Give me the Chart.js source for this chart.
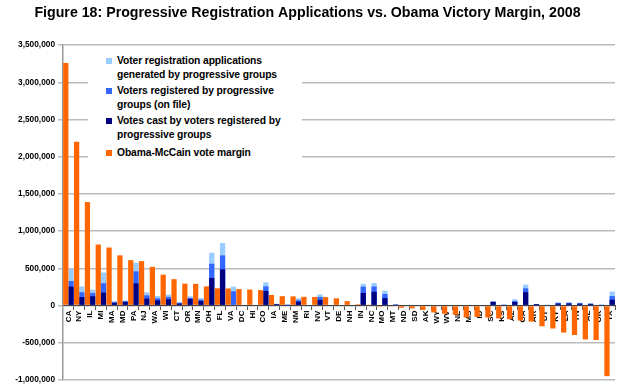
<!DOCTYPE html>
<html>
<head>
<meta charset="utf-8">
<script src="https://cdn.jsdelivr.net/npm/chart.js@4.4.1/dist/chart.umd.min.js"></script>
<style>
  html, body { margin: 0; padding: 0; background: #fff; }
  #wrap { position: relative; width: 640px; height: 388px; }
  #legend {
    position: absolute; left: 88px; top: 48px; width: 214px; height: 117px;
    background: #fff; color: #000;
    font: bold 10.3px "Liberation Sans", Arial, sans-serif;
  }
  .item { position: absolute; left: 29px; white-space: pre-line; line-height: 13.5px; letter-spacing: -0.1px; }
  .sw { position: absolute; left: -11px; top: 4px; width: 6px; height: 6px; }
</style>
</head>
<body>
<div id="wrap">
  <canvas id="chart" width="640" height="388"></canvas>
  <div id="legend"></div>
</div>
<script>
const states = ['CA','NY','IL','MI','MA','MD','PA','NJ','WA','WI','CT','OR','MN','OH','FL','VA','DC','HI','CO','IA',
  'ME','NM','RI','NV','VT','DE','NH','IN','NC','MO','MT','ND','SD','AK','WY','WV','NE','MS','ID','SC',
  'KS','AZ','GA','AR','UT','KY','LA','TN','AL','OK','TX'];

// Obama-McCain vote margin
const margin = [3260000, 2200000, 1390000, 820000, 780000, 675000, 610000, 597000, 520000, 415000,
  355000, 295000, 292000, 258000, 232000, 230000, 222000, 215000, 208000, 142000,
  126000, 124000, 118000, 116000, 114000, 98000, 60000, 18000, 7000, -5000,
  -12000, -30000, -38000, -58000, -92000, -110000, -125000, -160000, -152000, -160000,
  -172000, -182000, -202000, -215000, -278000, -308000, -362000, -395000, -455000, -462000,
  -948000];

// registration applications generated by progressive groups
const applications = [490000, 257000, 214000, 444000, 56000, 67000, 576000, 179000, 130000, 147000,
  49000, 125000, 100000, 710000, 840000, 254000, 0, 0, 312000, 25000,
  5000, 98000, 0, 150000, 0, 0, 0, 292000, 303000, 200000,
  15000, 0, 0, 0, 0, 0, 0, 0, 0, 55000,
  10000, 85000, 282000, 20000, 13000, 45000, 45000, 38000, 29000, 15000,
  188000];

// voters registered by progressive groups (on file)
const registered = [330000, 180000, 168000, 300000, 50000, 60000, 460000, 138000, 98000, 116000,
  35000, 103000, 80000, 562000, 674000, 192000, 0, 0, 258000, 20000,
  4000, 72000, 0, 116000, 0, 0, 0, 254000, 257000, 156000,
  14000, 0, 0, 0, 0, 0, 0, 0, 0, 52000,
  8000, 62000, 232000, 20000, 11000, 35000, 36000, 32000, 26000, 13000,
  128000];

// votes cast by voters registered by progressive groups
const votesCast = [256000, 114000, 125000, 174000, 35000, 49000, 299000, 94000, 71000, 85000,
  27000, 89000, 62000, 370000, 487000, 0, 0, 0, 195000, 20000,
  3000, 52000, 0, 77000, 0, 0, 0, 170000, 186000, 100000,
  14000, 0, 0, 0, 0, 0, 0, 0, 0, 50000,
  6000, 48000, 180000, 20000, 10000, 26000, 28000, 25000, 22000, 10000,
  78000];

const yMin = -1000000, yMax = 3500000, yStep = 500000;

const ctx = document.getElementById('chart').getContext('2d');

const chart = new Chart(ctx, {
  type: 'bar',
  data: {
    labels: states,
    datasets: [
      { label: 'Voter registration applications\ngenerated by progressive groups', data: applications,
        backgroundColor: '#99CCFF', stack: 'prog', order: 3 },
      { label: 'Voters registered by progressive\ngroups (on file)', data: registered,
        backgroundColor: '#3366FF', stack: 'prog', order: 2 },
      { label: 'Votes cast by voters registered by\nprogressive groups', data: votesCast,
        backgroundColor: '#000080', stack: 'prog', order: 1 },
      { label: 'Obama-McCain vote margin', data: margin,
        backgroundColor: '#FF6600', stack: 'margin', order: 0 }
    ]
  },
  options: {
    responsive: false,
    animation: false,
    categoryPercentage: 0.97,
    barPercentage: 1,
    layout: { padding: { left: 0, right: 25, top: 0, bottom: 6 } },
    plugins: {
      legend: { display: false },
      tooltip: { enabled: false },
      title: {
        display: true,
        text: 'Figure 18: Progressive Registration Applications vs. Obama Victory Margin, 2008',
        color: '#000',
        font: { family: '"Liberation Sans", Arial, sans-serif', size: 14.2, weight: 'bold' },
        padding: { top: 5, bottom: 23 }
      }
    },
    scales: {
      x: {
        stacked: true,
        position: { y: 0 },
        z: 1,
        afterFit: s => { s.height = 0; },
        grid: { display: true, drawOnChartArea: false, drawTicks: true, tickLength: 4, color: '#555', offset: true },
        border: { display: true, color: '#444', width: 1 },
        ticks: {
          autoSkip: false, minRotation: 90, maxRotation: 90, padding: 1, color: '#000',
          font: { family: '"Liberation Sans", Arial, sans-serif', size: 8, weight: 'bold' }
        }
      },
      y: {
        stacked: false,
        min: yMin, max: yMax,
        afterFit: s => { s.width = 63; },
        grid: { color: '#bbbbbb', lineWidth: 1.5, tickLength: 5 },
        border: { display: true, color: '#999', width: 1.5 },
        ticks: {
          stepSize: yStep, padding: 3, color: '#000',
          font: { family: '"Liberation Sans", Arial, sans-serif', size: 8.3, weight: 'bold' },
          callback: v => v.toLocaleString('en-US')
        }
      }
    }
  }
});

// legend inside the plot, in the original's order
const legend = document.getElementById('legend');
const tops = [6, 36, 66, 98];
chart.data.datasets.forEach((ds, i) => {
  const item = document.createElement('div');
  item.className = 'item';
  item.style.top = tops[i] + 'px';
  const sw = document.createElement('span');
  sw.className = 'sw';
  sw.style.background = ds.backgroundColor;
  item.appendChild(sw);
  item.appendChild(document.createTextNode(ds.label));
  legend.appendChild(item);
});
</script>
</body>
</html>
